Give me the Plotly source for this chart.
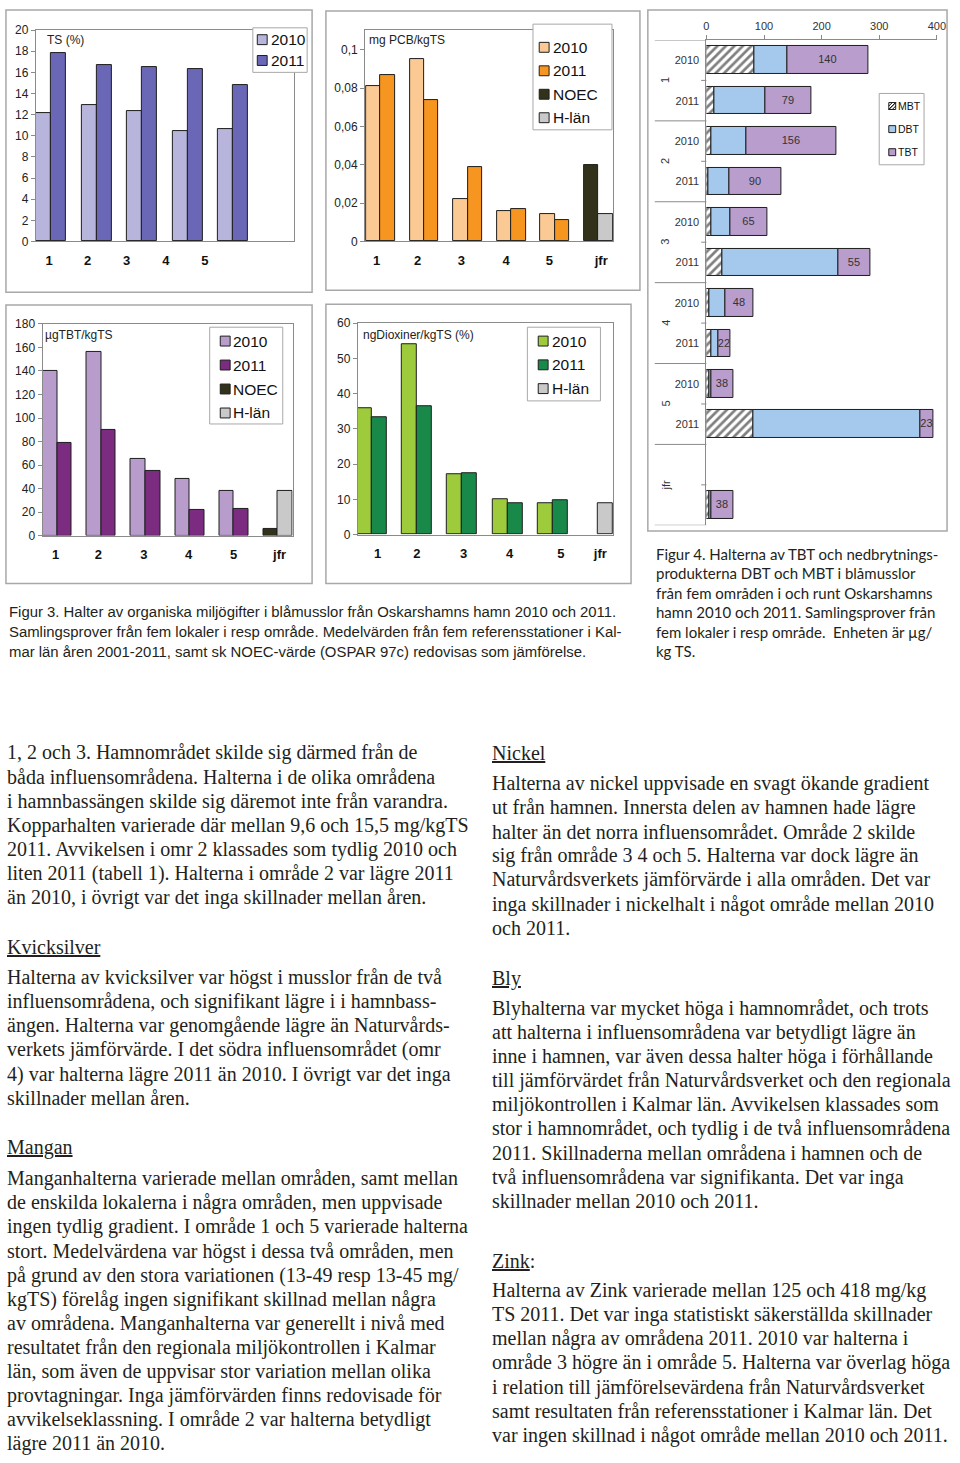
import plotly.graph_objects as go

W, H = 960, 1463


def px(x):
    return x / W


def py(y):
    return 1 - y / H


# ------------------------------------------------------------------ data
areas = ["1", "2", "3", "4", "5"]
jfr = "jfr"

ts_2010 = [12.1, 12.9, 12.3, 10.4, 10.6]
ts_2011 = [17.8, 16.7, 16.5, 16.3, 14.8]

pcb_2010 = [0.081, 0.095, 0.022, 0.016, 0.0145]
pcb_2011 = [0.087, 0.074, 0.039, 0.017, 0.011]
pcb_noec = [0.040]
pcb_hlan = [0.0145]

tbt_2010 = [140, 156, 65, 48, 38]
tbt_2011 = [79, 90, 55, 22, 23]
tbt_noec = [6]
tbt_hlan = [38]

diox_2010 = [36, 54, 17, 10, 9]
diox_2011 = [33.3, 36.3, 17.3, 8.9, 9.7]
diox_hlan = [9]

hb_group = ["1", "1", "2", "2", "3", "3", "4", "4", "5", "5", "jfr"]
hb_year = ["2010", "2011", "2010", "2011", "2010", "2011",
           "2010", "2011", "2010", "2011", ""]
hb_mbt = [83, 14, 8, 3.5, 8.5, 28.5, 5.5, 9, 5.5, 81, 5.5]
hb_dbt = [58, 89, 62, 36, 32.5, 200.5, 28, 11.5, 3.5, 290, 3.5]
hb_tbt = [140, 79, 156, 90, 65, 55, 48, 22, 38, 23, 38]

ts_title = "TS (%)"
pcb_title = "mg PCB/kgTS"
tbt_title = "µgTBT/kgTS"
diox_title = "ngDioxiner/kgTS (%)"

cap3 = [
    "Figur 3. Halter av organiska miljögifter i blåmusslor från Oskarshamns hamn 2010 och 2011.",
    "Samlingsprover från fem lokaler i resp område. Medelvärden från fem referensstationer i Kal-",
    "mar län åren 2001-2011, samt sk NOEC-värde (OSPAR 97c) redovisas som jämförelse.",
]
cap4 = [
    "Figur 4. Halterna av TBT och nedbrytnings-",
    "produkterna DBT och MBT i blåmusslor",
    "från fem områden i och runt Oskarshamns",
    "hamn 2010 och 2011. Samlingsprover från",
    "fem lokaler i resp område.  Enheten är µg/",
    "kg TS.",
]

left_col = [
    (None, [
        "1, 2 och 3. Hamnområdet skilde sig därmed från de",
        "båda influensområdena. Halterna i de olika områdena",
        "i hamnbassängen skilde sig däremot inte från varandra.",
        "Kopparhalten varierade där mellan 9,6 och 15,5 mg/kgTS",
        "2011. Avvikelsen i omr 2 klassades som tydlig 2010 och",
        "liten 2011 (tabell 1). Halterna i område 2 var lägre 2011",
        "än 2010, i övrigt var det inga skillnader mellan åren.",
    ]),
    ("<u>Kvicksilver</u>", [
        "Halterna av kvicksilver var högst i musslor från de två",
        "influensområdena, och signifikant lägre i i hamnbass-",
        "ängen. Halterna var genomgående lägre än Naturvårds-",
        "verkets jämförvärde. I det södra influensområdet (omr",
        "4) var halterna lägre 2011 än 2010. I övrigt var det inga",
        "skillnader mellan åren.",
    ]),
    ("<u>Mangan</u>", [
        "Manganhalterna varierade mellan områden, samt mellan",
        "de enskilda lokalerna i några områden, men uppvisade",
        "ingen tydlig gradient. I område 1 och 5 varierade halterna",
        "stort. Medelvärdena var högst i dessa två områden, men",
        "på grund av den stora variationen (13-49 resp 13-45 mg/",
        "kgTS) förelåg ingen signifikant skillnad mellan några",
        "av områdena. Manganhalterna var generellt i nivå med",
        "resultatet från den regionala miljökontrollen i Kalmar",
        "län, som även de uppvisar stor variation mellan olika",
        "provtagningar. Inga jämförvärden finns redovisade för",
        "avvikelseklassning. I område 2 var halterna betydligt",
        "lägre 2011 än 2010.",
    ]),
]
right_col = [
    ("<u>Nickel</u>", [
        "Halterna av nickel uppvisade en svagt ökande gradient",
        "ut från hamnen. Innersta delen av hamnen hade lägre",
        "halter än det norra influensområdet. Område 2 skilde",
        "sig från område 3 4 och 5. Halterna var dock lägre än",
        "Naturvårdsverkets jämförvärde i alla områden. Det var",
        "inga skillnader i nickelhalt i något område mellan 2010",
        "och 2011.",
    ]),
    ("<u>Bly</u>", [
        "Blyhalterna var mycket höga i hamnområdet, och trots",
        "att halterna i influensområdena var betydligt lägre än",
        "inne i hamnen, var även dessa halter höga i förhållande",
        "till jämförvärdet från Naturvårdsverket och den regionala",
        "miljökontrollen i Kalmar län. Avvikelsen klassades som",
        "stor i hamnområdet, och tydlig i de två influensområdena",
        "2011. Skillnaderna mellan områdena i hamnen och de",
        "två influensområdena var signifikanta. Det var inga",
        "skillnader mellan 2010 och 2011.",
    ]),
    ("<u>Zink</u>:", [
        "Halterna av Zink varierade mellan 125 och 418 mg/kg",
        "TS 2011. Det var inga statistiskt säkerställda skillnader",
        "mellan några av områdena 2011. 2010 var halterna i",
        "område 3 högre än i område 5. Halterna var överlag höga",
        "i relation till jämförelsevärdena från Naturvårdsverket",
        "samt resultaten från referensstationer i Kalmar län. Det",
        "var ingen skillnad i något område mellan 2010 och 2011.",
    ]),
]

# ------------------------------------------------------------------ style
SANS = "Liberation Sans, Arial, sans-serif"
SERIF = "Liberation Serif, Times New Roman, serif"
CAP3F = "Liberation Sans, Arial, sans-serif"
CAP4F = "Lato, Noto Sans, sans-serif"
DARK = "#1e1e1e"
AXIS = "#8a8a8a"
BORDER = "#a8a8a8"
TXT = "#231f20"

C_TS10, C_TS11 = "#b8b5dd", "#6a68b6"
C_PCB10, C_PCB11 = "#fbca94", "#f6951f"
C_TBT10, C_TBT11 = "#b89ccb", "#7b2b80"
C_DX10, C_DX11 = "#9dcb3c", "#19894a"
C_NOEC, C_HLAN = "#32321a", "#c9c9c9"
C_DBT, C_TBTH = "#a5c9ec", "#b99dcc"
BW = 0.33

fig = go.Figure()
pos5 = list(range(len(areas)))
posj = [len(areas)]


def vbar(vals, pos, offset, color, xa, ya):
    fig.add_trace(go.Bar(
        x=pos, y=vals, width=BW, offset=offset,
        marker=dict(color=color, line=dict(color=DARK, width=1)),
        xaxis=xa, yaxis=ya, showlegend=False, hoverinfo="skip"))


# chart 1: TS
vbar(ts_2010, pos5, -BW, C_TS10, "x", "y")
vbar(ts_2011, pos5, 0, C_TS11, "x", "y")
# chart 2: PCB
vbar(pcb_2010, pos5, -BW, C_PCB10, "x2", "y2")
vbar(pcb_2011, pos5, 0, C_PCB11, "x2", "y2")
vbar(pcb_noec, posj, -BW, C_NOEC, "x2", "y2")
vbar(pcb_hlan, posj, 0, C_HLAN, "x2", "y2")
# chart 4: TBT
vbar(tbt_2010, pos5, -BW, C_TBT10, "x4", "y4")
vbar(tbt_2011, pos5, 0, C_TBT11, "x4", "y4")
vbar(tbt_noec, posj, -BW, C_NOEC, "x4", "y4")
vbar(tbt_hlan, posj, 0, C_HLAN, "x4", "y4")
# chart 5: dioxin
vbar(diox_2010, pos5, -BW, C_DX10, "x5", "y5")
vbar(diox_2011, pos5, 0, C_DX11, "x5", "y5")
vbar(diox_hlan, posj, 0, C_HLAN, "x5", "y5")

# chart 3: horizontal stacked TBT / DBT / MBT
groups = list(dict.fromkeys(hb_group))
slots = []
for g, yr in zip(hb_group, hb_year):
    gi = groups.index(g)
    slots.append(2 * gi + (0 if yr == "2010" else 1))
base_dbt = hb_mbt
base_tbt = [a + b for a, b in zip(hb_mbt, hb_dbt)]
HB_W = 0.68
fig.add_trace(go.Bar(
    orientation="h", y=slots, x=hb_mbt, width=HB_W,
    marker=dict(color="white",
                pattern=dict(shape="/", fgcolor="#000000", bgcolor="white",
                             size=6, solidity=0.45),
                line=dict(color=DARK, width=1)),
    xaxis="x3", yaxis="y3", showlegend=False, hoverinfo="skip"))
fig.add_trace(go.Bar(
    orientation="h", y=slots, x=hb_dbt, base=base_dbt, width=HB_W,
    marker=dict(color=C_DBT, line=dict(color=DARK, width=1)),
    xaxis="x3", yaxis="y3", showlegend=False, hoverinfo="skip"))
fig.add_trace(go.Bar(
    orientation="h", y=slots, x=hb_tbt, base=base_tbt, width=HB_W,
    marker=dict(color=C_TBTH, line=dict(color=DARK, width=1)),
    text=[str(v) for v in hb_tbt], textposition="inside",
    insidetextanchor="middle", textangle=0, constraintext="none",
    textfont=dict(family=SANS, size=11, color="#333333"),
    xaxis="x3", yaxis="y3", showlegend=False, hoverinfo="skip"))

# ------------------------------------------------------------------ axes


def vaxes(n, xl, xr, yb, yt, xrange, yrange, dtick, labpos, labels):
    sx = "" if n == 1 else str(n)
    fig.layout["xaxis" + sx] = dict(
        domain=[px(xl), px(xr)], range=xrange, anchor="y" + sx,
        showline=True, linecolor=AXIS, linewidth=1, mirror=True,
        ticks="", tickmode="array", tickvals=labpos, ticktext=labels,
        tickfont=dict(family=SANS, size=13, color="#111111", weight="bold"),
        ticklabelstandoff=7, showgrid=False, zeroline=False, fixedrange=True)
    fig.layout["yaxis" + sx] = dict(
        domain=[py(yb), py(yt)], range=yrange, anchor="x" + sx,
        showline=True, linecolor=AXIS, linewidth=1, mirror=True,
        ticks="outside", ticklen=4, tickcolor=AXIS, tick0=0, dtick=dtick,
        tickfont=dict(family=SANS, size=12, color="#222222"),
        showgrid=False, zeroline=False, fixedrange=True)


vaxes(1, 33.3, 295, 236.7, 23.3, [-0.34, 5.35], [0, 20], 2,
      [-0.05, 0.80, 1.66, 2.52, 3.38], areas)
vaxes(2, 366.7, 617.7, 236.7, 23.3, [-0.355, 5.33], [0, 0.1103], 0.02,
      [-0.09, 0.85, 1.85, 2.88, 3.87, 5.06], areas + [jfr])
vaxes(4, 40, 293.3, 533.7, 320, [-0.336, 5.336], [0, 180], 20,
      [-0.04, 0.93, 1.96, 2.98, 4.0, 5.04], areas + [jfr])
vaxes(5, 359.3, 617.7, 532.7, 319.3, [-0.305, 5.33], [0, 60], 10,
      [0.13, 1.0, 2.03, 3.05, 4.18, 5.05], areas + [jfr])

tick_slots = [s for s, yr in zip(slots, hb_year) if yr]
tick_years = [yr for yr in hb_year if yr]
n_slots = 2 * len(groups)
fig.layout["xaxis3"] = dict(
    domain=[px(712.3), px(945.7)], range=[0, 400], anchor="y3", side="top",
    showline=True, linecolor=AXIS, linewidth=1, ticks="outside", ticklen=4,
    tickcolor=AXIS, dtick=100, tick0=0, ticklabelstandoff=1,
    tickfont=dict(family=SANS, size=11, color="#333333"),
    showgrid=False, zeroline=False, fixedrange=True)
fig.layout["yaxis3"] = dict(
    domain=[py(523.3), py(33.3)], range=[n_slots - 0.5, -0.5], anchor="x3",
    showline=True, linecolor=AXIS, linewidth=1, ticks="",
    tickmode="array", tickvals=tick_slots, ticktext=tick_years,
    tickfont=dict(family=SANS, size=11, color="#333333"),
    ticklabelstandoff=4, showgrid=False, zeroline=False, fixedrange=True)

shapes = []
annos = []

# group dividers and group labels of the horizontal chart
for k in range(len(groups) + 1):
    b = 2 * k - 0.5
    shapes.append(dict(type="line", xref="paper", yref="y3",
                       x0=px(660), x1=px(712.3), y0=b, y1=b,
                       line=dict(color=AXIS, width=1)))
for k in range(len(groups)):
    b = 2 * k + 0.5
    shapes.append(dict(type="line", xref="paper", yref="y3",
                       x0=px(707), x1=px(712.3), y0=b, y1=b,
                       line=dict(color=AXIS, width=1)))
    annos.append(dict(text=groups[k], xref="paper", yref="y3",
                      x=px(671), y=2 * k + 0.5, showarrow=False,
                      textangle=-90, xanchor="center", yanchor="middle",
                      font=dict(family=SANS, size=11, color="#333333")))

# chart frames
for (x0, y0, x1, y1) in [(3, 3, 313, 288), (327, 4, 645, 286),
                         (653, 3, 956, 529), (3, 301, 313, 582),
                         (327, 300, 636, 582)]:
    shapes.append(dict(type="rect", xref="paper", yref="paper",
                       x0=px(x0), x1=px(x1), y0=py(y1), y1=py(y0),
                       line=dict(color=BORDER, width=1.5)))

# unit titles inside charts
for t, x, y in [(ts_title, 42.7, 33.5), (pcb_title, 369, 33.3),
                (tbt_title, 40.7, 330.7), (diox_title, 362.7, 331)]:
    annos.append(dict(text=t, xref="paper", yref="paper", x=px(x), y=py(y),
                      xanchor="left", yanchor="middle", showarrow=False,
                      font=dict(family=SANS, size=12, color="#222222")))


# legends (boxes drawn with shapes, labels as text)
def legend(box, sw_x, sw, txt_x, y0, dy, items, fs):
    bx0, by0, bx1, by1 = box
    shapes.append(dict(type="rect", xref="paper", yref="paper",
                       x0=px(bx0), x1=px(bx1), y0=py(by1), y1=py(by0),
                       fillcolor="white", line=dict(color=BORDER, width=1)))
    for i, (lab, col) in enumerate(items):
        yc = y0 + i * dy
        shapes.append(dict(type="rect", xref="paper", yref="paper",
                           x0=px(sw_x), x1=px(sw_x + sw),
                           y0=py(yc + sw / 2), y1=py(yc - sw / 2),
                           fillcolor=col if col != "hatch" else "white",
                           line=dict(color=DARK, width=1)))
        if col == "hatch":
            for f in (0.0, 0.5):
                shapes.append(dict(
                    type="line", xref="paper", yref="paper",
                    x0=px(sw_x + f * sw), y0=py(yc + sw / 2),
                    x1=px(sw_x + sw), y1=py(yc - sw / 2 + f * sw),
                    line=dict(color="#111111", width=1)))
                shapes.append(dict(
                    type="line", xref="paper", yref="paper",
                    x0=px(sw_x), y0=py(yc + sw / 2 - f * sw),
                    x1=px(sw_x + sw - f * sw), y1=py(yc - sw / 2),
                    line=dict(color="#111111", width=1)))
        annos.append(dict(text=lab, xref="paper", yref="paper", x=px(txt_x),
                          y=py(yc), xanchor="left", yanchor="middle",
                          showarrow=False,
                          font=dict(family=SANS, size=fs, color="#111111")))


legend((253, 21, 308, 66), 257.5, 10, 269, 33, 21,
       [("2010", C_TS10), ("2011", C_TS11)], 15.5)
legend((536.7, 17.3, 616.7, 124), 543, 10, 555, 40.7, 23.7,
       [("2010", C_PCB10), ("2011", C_PCB11), ("NOEC", C_NOEC),
        ("H-län", C_HLAN)], 15.5)
legend((209.3, 323.3, 283.3, 421), 220, 10, 231, 337.3, 24.2,
       [("2010", C_TBT10), ("2011", C_TBT11), ("NOEC", C_NOEC),
        ("H-län", C_HLAN)], 15.5)
legend((531, 323.3, 605, 397.7), 542, 10, 554, 337.3, 24,
       [("2010", C_DX10), ("2011", C_DX11), ("H-län", C_HLAN)], 15.5)
legend((887.3, 87.3, 932.7, 159.3), 897, 7, 904.5, 100, 23.3,
       [("MBT", "hatch"), ("DBT", C_DBT), ("TBT", C_TBTH)], 10.5)

# captions
for i, line in enumerate(cap3):
    annos.append(dict(text=line, xref="paper", yref="paper", x=px(4),
                      y=py(611 + 20 * i), xanchor="left", yanchor="middle",
                      showarrow=False,
                      font=dict(family=CAP3F, size=14.9, color=TXT)))
for i, line in enumerate(cap4):
    annos.append(dict(text=line, xref="paper", yref="paper", x=px(659),
                      y=py(552 + 19.7 * i), xanchor="left", yanchor="middle",
                      showarrow=False,
                      font=dict(family=CAP4F, size=15, color=TXT)))

# body text
LS = 24.35


def column(paras, x, starts):
    for (head, lines), (hy, ly) in zip(paras, starts):
        if head:
            annos.append(dict(text=head, xref="paper", yref="paper", x=px(x),
                              y=py(hy), xanchor="left", yanchor="middle",
                              showarrow=False,
                              font=dict(family=SERIF, size=20, color=TXT)))
        for i, line in enumerate(lines):
            annos.append(dict(text=line, xref="paper", yref="paper", x=px(x),
                              y=py(ly + LS * i), xanchor="left",
                              yanchor="middle", showarrow=False,
                              font=dict(family=SERIF, size=20, color=TXT)))


column(left_col, 2.5, [(None, 753), (949, 980), (1152, 1183)])
column(right_col, 493, [(753, 784), (981, 1011), (1266, 1296)])

fig.update_layout(
    width=W, height=H, margin=dict(l=0, r=0, t=0, b=0),
    paper_bgcolor="white", plot_bgcolor="white",
    barmode="overlay", bargap=0, showlegend=False,
    separators=", ", font=dict(family=SANS, color=TXT),
    shapes=shapes, annotations=annos)

fig.write_html("out.html")
